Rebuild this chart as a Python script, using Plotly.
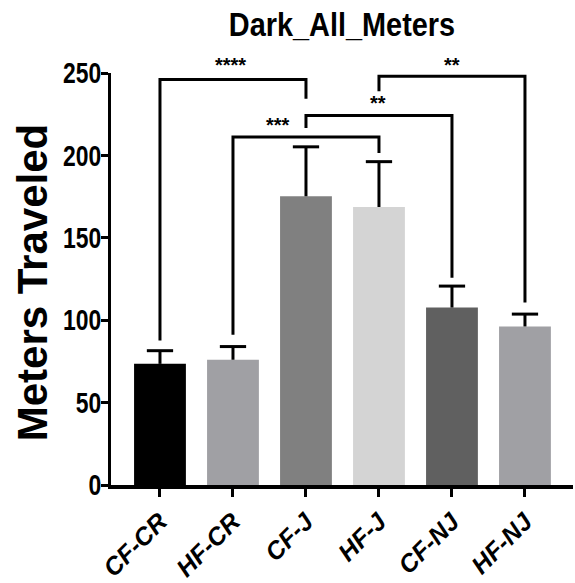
import plotly.graph_objects as go

# Group means and SEM (meters travelled in the dark)
groups = ["CF-CR", "HF-CR", "CF-J", "HF-J", "CF-NJ", "HF-NJ"]
means = [73.5, 76.0, 175.2, 168.7, 107.7, 96.2]
sems = [8.0, 8.0, 30.0, 27.5, 13.0, 7.5]
bar_colors = ["#000000", "#A0A0A4", "#808080", "#D4D4D4", "#606060", "#A0A0A4"]
y_ticks = [0, 50, 100, 150, 200, 250]

# Significance brackets between group pairs
bracket_left = [0, 1, 2, 3]
bracket_right = [2, 3, 4, 5]
bracket_top = [246.0, 211.2, 224.2, 248.0]
leg_left_bottom = [87.7, 91.1, 216.7, 239.0]
leg_right_bottom = [234.3, 201.5, 125.8, 110.8]
bracket_labels = ["****", "***", "**", "**"]
label_x = [0.97, 1.61, 2.99, 4.0]
label_y = [255.0, 218.3, 231.5, 255.0]

FONT = "Liberation Sans, Arial, sans-serif"
LW = 3
CAP = 0.18
Y_MAX = 250

fig = go.Figure()

fig.add_trace(go.Bar(
    x=list(range(len(groups))), y=means,
    marker=dict(color=bar_colors, line=dict(width=0)),
    width=0.71, showlegend=False, hoverinfo="skip",
))

# Upward-only error bars: stem plus cap
for i, (m, s) in enumerate(zip(means, sems)):
    fig.add_trace(go.Scatter(
        x=[i, i, None, i - CAP, i + CAP], y=[m, m + s, None, m + s, m + s],
        mode="lines", line=dict(color="black", width=LW),
        showlegend=False, hoverinfo="skip",
    ))

for a, b, top, lb, rb in zip(bracket_left, bracket_right, bracket_top,
                             leg_left_bottom, leg_right_bottom):
    fig.add_trace(go.Scatter(
        x=[a, a, b, b], y=[lb, top, top, rb],
        mode="lines", line=dict(color="black", width=LW),
        showlegend=False, hoverinfo="skip", cliponaxis=False,
    ))

# Star labels (some sit above the axis top, so place them in paper units)
for lx, ly, txt in zip(label_x, label_y, bracket_labels):
    fig.add_annotation(x=lx, xref="x", y=ly / Y_MAX, yref="paper",
                       text=txt, showarrow=False,
                       font=dict(family=FONT, size=20, color="black", weight="bold"),
                       xanchor="center", yanchor="middle")

fig.add_annotation(xref="paper", yref="paper", x=-0.171, y=0.492,
                   text="Meters Traveled", textangle=-90, showarrow=False,
                   font=dict(family=FONT, size=42, color="black", weight="bold"),
                   xanchor="center", yanchor="middle")

fig.update_layout(
    width=575, height=583,
    margin=dict(l=111, r=2, t=73, b=98),
    plot_bgcolor="white", paper_bgcolor="white",
    title=dict(text="Dark_All_Meters", x=0.5, xref="paper",
               y=1 - 24 / 583, yref="container", xanchor="center", yanchor="middle",
               font=dict(family=FONT, size=33, color="black", weight="bold")),
    xaxis=dict(
        range=[-0.671, 5.658], tickmode="array",
        tickvals=list(range(len(groups))), ticktext=groups,
        tickangle=-45, ticks="outside", ticklen=8, tickwidth=LW, tickcolor="black",
        showline=True, linewidth=LW + 1, linecolor="black", showgrid=False,
        zeroline=False,
        tickfont=dict(family=FONT, size=25, color="black", weight="bold",
                      style="italic"),
    ),
    yaxis=dict(
        range=[0, Y_MAX], tickvals=y_ticks,
        ticks="outside", ticklen=7, tickwidth=LW, tickcolor="black",
        showline=True, linewidth=LW, linecolor="black", showgrid=False,
        zeroline=False,
        tickfont=dict(family=FONT, size=29, color="black", weight="bold"),
        ticklabelstandoff=-6,
    ),
)

# Condense the title and y tick numbers horizontally (narrow-face look)
squeeze_js = """
var gd = document.getElementById('{plot_id}');
function squeeze(sel, f) {
  gd.querySelectorAll(sel).forEach(function (t) {
    var w = t.getComputedTextLength();
    t.setAttribute('textLength', (w * f).toFixed(1));
    t.setAttribute('lengthAdjust', 'spacingAndGlyphs');
  });
}
squeeze('.ytick text', 0.79);
squeeze('.gtitle', 0.875);
"""

fig.write_html("out.html", post_script=squeeze_js)
